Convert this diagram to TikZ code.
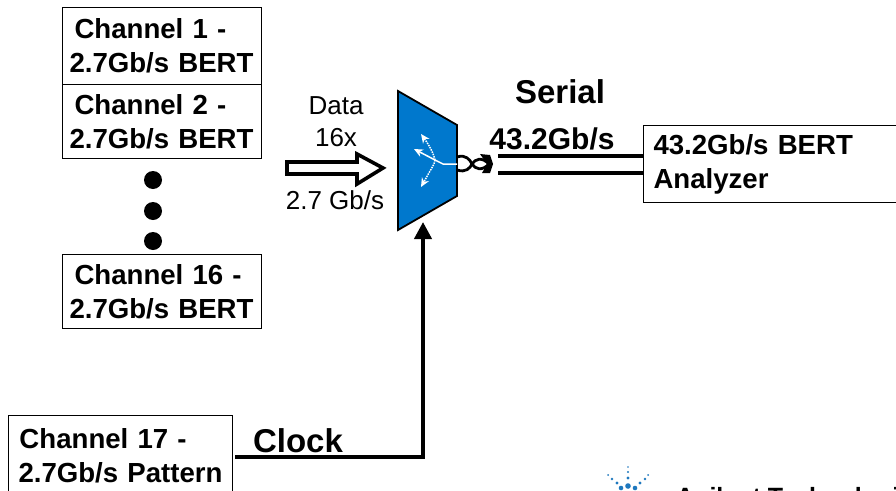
\documentclass[tikz,border=0pt]{standalone}
\usepackage{fontspec}
\setmainfont{Liberation Sans}
\usetikzlibrary{arrows.meta,calc}
\definecolor{muxblue}{RGB}{0,120,205}
\definecolor{logoblue}{RGB}{30,120,190}
\tikzset{
  x=1pt,y=-1pt,
  chbox/.style={draw=black,line width=1pt,fill=white,inner sep=0pt,anchor=north west,text width=#1,align=left,font=\fontsize{27.6}{35}\selectfont\bfseries},
  lbl/.style={inner sep=0pt,font=\fontsize{26}{26}\selectfont},
  big/.style={inner sep=0pt,font=\fontsize{33}{33}\selectfont\bfseries},
  wire/.style={line width=4pt,black},
  dot/.style={circle,fill=black,inner sep=0pt,minimum size=18pt},
  whitearrow/.style={white,line width=1.5pt,-{Stealth[length=9pt,width=8pt]}},
  whitedots/.style={white,line width=1.5pt,densely dotted,-{Stealth[length=9pt,width=8pt]}},
}
\begin{document}
\begin{tikzpicture}
\useasboundingbox (0,0) rectangle (896,490);
\clip (0,0) rectangle (896,490);
\node[chbox=199pt,minimum height=77pt] (c1) at (62,7) {\hspace*{12pt}Channel 1 -\\[-1pt]\hspace*{7pt}2.7Gb/s BERT};
\node[chbox=199pt,minimum height=74pt] (c2) at (62,84) {\hspace*{12pt}Channel 2 -\\[-1pt]\hspace*{7pt}2.7Gb/s BERT};
\node[dot] (d1) at (153,180) {};
\node[dot] (d2) at (153,211) {};
\node[dot] (d3) at (153,241) {};
\node[chbox=199pt,minimum height=74pt] (c16) at (62,254) {\hspace*{12pt}Channel 16 -\\[-1pt]\hspace*{7pt}2.7Gb/s BERT};
\node[chbox=224pt,minimum height=80pt] (c17) at (8,415) {\hspace*{11pt}Channel 17 -\\[-1pt]\hspace*{10pt}2.7Gb/s Pattern};
\node[chbox=253pt,minimum height=77pt] (an) at (643,125) {\hspace*{10pt}43.2Gb/s BERT\\[-1pt]\hspace*{10pt}Analyzer};
% labels
\node[lbl] (data) at (336,106) {Data};
\node[lbl] (x16) at (336,138) {16x};
\node[lbl] (rate) at (335,200) {2.7 Gb/s};
\node[big] (serial) at (560,92) {Serial};
\node[inner sep=0pt,font=\fontsize{30}{30}\selectfont\bfseries] (sr) at (552,139) {43.2Gb/s};
\node[big] (clk) at (298,441) {Clock};
% hollow arrow
\draw[black,line width=3.6pt,fill=white,miter limit=10] (287,162) -- (357,162) -- (357,154) -- (383,168) -- (357,184) -- (357,174) -- (287,174) -- cycle;
% mux
\path[draw=black,line width=1.8pt,fill=muxblue] (398,91) -- (457,125) -- (457,196) -- (398,230) -- cycle;
\coordinate (mo) at (457,164);
\coordinate (mb) at (423,222);
\coordinate (mi) at (443,164);
\coordinate (mh) at (435,160);
\draw[whitearrow] (mo) -- (mi) -- (mh) -- (414,149);
\draw[whitedots] (mh) .. controls (433,152) and (429,145) .. (421,134);
\draw[whitedots] (mh) -- (434,164) -- (421,187);
% twist
\draw[black,line width=2.8pt] (457,157) .. controls (466,154) and (470,160) .. (472,164) .. controls (475,169) and (482,172) .. (490,163);
\draw[black,line width=2.8pt] (457,170) .. controls (466,173) and (470,168) .. (472,164) .. controls (475,159) and (482,156) .. (490,165);
\fill[black] (480,154) -- (490,155) -- (493,164) -- (490,173) -- (482,173) -- (487,164) -- cycle;
% serial lines
\coordinate (s1) at (498,156);
\coordinate (s2) at (498,173);
\draw[wire] (s1) -- (s1 -| an.west);
\draw[wire] (s2) -- (s2 -| an.west);
% clock
\coordinate (cs) at (235,457);
\coordinate (cc) at (423,457);
\draw[wire,-{Triangle[length=17pt,width=17pt]}] (cs) -- (cc) -- (mb);
% logo
\foreach \x/\y/\r in {628/467/.8,628/472/1.2,628/478/1.6,628/486/2.8,608/475/1,612/479/1.4,617/483/1.7,621/488/2.3,648/475/1,645/479/1.4,640/483/1.7,635/488/2.3}
  \fill[logoblue] (\x,\y) circle (\r);
\node[inner sep=0pt,anchor=base west,font=\fontsize{25}{25}\selectfont\bfseries] (agl) at (676,505) {Agilent Technologies};
\end{tikzpicture}
\end{document}
